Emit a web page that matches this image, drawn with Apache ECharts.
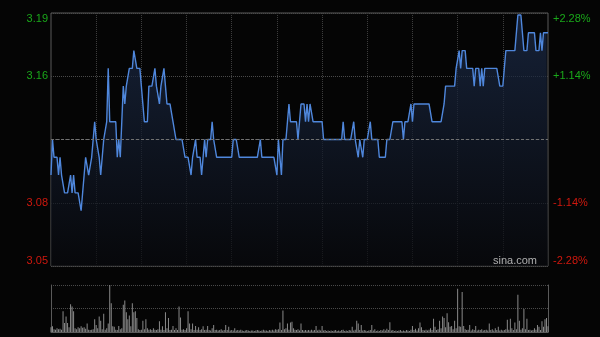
<!DOCTYPE html>
<html><head><meta charset="utf-8">
<script src="https://cdn.jsdelivr.net/npm/echarts@6/dist/echarts.min.js"></script>
<style>html,body{margin:0;padding:0;background:#050505;}#c{width:600px;height:337px;}</style>
</head><body><div id="c"></div>
<script>
// previous close (midline) and axis range in percent
const prevClose = 3.12;
const pctMin = -2.28, pctMax = 2.28, pctStep = 1.14;

// minute prices, 09:30-12:00 and 13:01-16:00
const prices = [
3.10,3.12,3.11,3.11,3.11,3.10,3.11,3.10,3.10,3.09,
3.09,3.09,3.09,3.10,3.09,3.10,3.09,3.09,3.09,3.09,
3.08,3.08,3.10,3.11,3.11,3.10,3.10,3.11,3.11,3.13,
3.12,3.12,3.11,3.10,3.10,3.12,3.12,3.13,3.16,3.13,
3.13,3.13,3.13,3.13,3.11,3.12,3.11,3.13,3.15,3.14,
3.15,3.15,3.16,3.16,3.16,3.17,3.17,3.16,3.16,3.16,
3.15,3.14,3.13,3.13,3.13,3.15,3.15,3.15,3.15,3.16,
3.15,3.15,3.14,3.15,3.15,3.16,3.15,3.14,3.14,3.14,
3.14,3.13,3.13,3.12,3.12,3.12,3.12,3.12,3.12,3.11,
3.11,3.11,3.11,3.10,3.11,3.11,3.12,3.11,3.11,3.11,
3.10,3.11,3.12,3.11,3.12,3.12,3.12,3.13,3.12,3.12,
3.11,3.11,3.11,3.11,3.11,3.11,3.11,3.11,3.11,3.11,
3.11,3.12,3.12,3.12,3.12,3.11,3.11,3.11,3.11,3.11,
3.11,3.11,3.11,3.11,3.11,3.11,3.11,3.11,3.11,3.12,
3.11,3.11,3.11,3.11,3.11,3.11,3.11,3.11,3.11,3.11,
3.10,3.12,3.11,3.10,3.12,3.12,3.12,3.13,3.14,3.13,
3.13,3.13,3.13,3.13,3.12,3.13,3.14,3.14,3.14,3.13,
3.14,3.13,3.14,3.14,3.13,3.13,3.13,3.13,3.13,3.13,
3.13,3.12,3.12,3.12,3.12,3.12,3.12,3.12,3.12,3.12,
3.12,3.12,3.12,3.12,3.13,3.12,3.12,3.12,3.12,3.12,
3.12,3.13,3.12,3.12,3.11,3.12,3.12,3.11,3.12,3.12,
3.12,3.12,3.13,3.12,3.12,3.12,3.12,3.12,3.11,3.11,
3.11,3.11,3.11,3.12,3.12,3.12,3.12,3.13,3.13,3.13,
3.13,3.13,3.13,3.13,3.12,3.13,3.13,3.13,3.13,3.14,
3.13,3.14,3.14,3.14,3.14,3.14,3.14,3.14,3.14,3.14,
3.14,3.14,3.14,3.13,3.13,3.13,3.13,3.13,3.13,3.13,
3.13,3.14,3.15,3.15,3.15,3.15,3.15,3.15,3.15,3.16,
3.16,3.17,3.16,3.17,3.17,3.17,3.16,3.16,3.16,3.16,
3.16,3.15,3.16,3.16,3.16,3.15,3.16,3.15,3.16,3.16,
3.16,3.16,3.16,3.16,3.16,3.16,3.16,3.16,3.15,3.15,
3.15,3.16,3.17,3.17,3.17,3.17,3.17,3.17,3.17,3.17,
3.19,3.19,3.19,3.18,3.17,3.17,3.17,3.18,3.18,3.18,
3.18,3.18,3.17,3.17,3.17,3.18,3.17,3.18,3.18,3.18,
3.18
];

// minute volumes (relative units, panel top = 100)
const volumes = [
10,12,6,5,8,6,7,5,44,19,
33,19,10,59,54,44,8,6,10,8,
12,9,10,7,18,5,4,5,6,27,
15,8,33,24,6,39,5,8,18,100,
61,12,11,5,4,13,6,8,58,67,
42,27,35,12,61,42,44,30,6,4,
5,24,6,27,8,5,6,4,8,5,
4,6,23,5,12,4,42,8,30,4,
5,13,4,8,4,54,31,5,6,4,
8,44,18,6,18,4,13,5,10,4,
6,12,4,5,13,4,3,8,15,4,
5,3,4,6,3,4,15,4,11,3,
4,3,8,3,4,3,5,3,2,3,
4,3,2,3,3,2,3,4,3,2,
3,5,3,3,2,4,3,5,3,6,
5,6,20,4,46,6,8,18,5,20,
22,8,5,4,6,3,18,4,3,4,
3,4,3,5,3,4,13,3,5,3,
13,3,4,2,3,2,3,2,3,4,
2,3,2,4,5,2,3,2,4,3,
11,3,5,24,18,4,15,3,4,3,
2,3,4,15,3,6,2,3,2,4,
3,6,3,7,4,21,3,4,2,3,
2,3,4,2,3,2,4,3,2,5,
13,4,7,3,8,20,10,4,3,5,
3,5,8,4,28,11,4,6,24,8,
33,30,10,40,21,11,13,6,24,8,
92,12,11,85,13,6,4,5,15,3,
6,4,13,3,5,4,6,3,4,5,
3,18,4,6,3,8,4,11,3,5,
3,4,6,26,5,28,8,4,20,6,
79,24,5,8,49,6,28,4,5,3,
4,8,5,15,11,4,23,11,27,30,
12
];

// time categories
const times = [];
function pad(n){return (n<10?'0':'')+n;}
for (let t = 9*60+30; t <= 12*60; t++) times.push(pad(Math.floor(t/60))+':'+pad(t%60));
for (let t = 13*60+1; t <= 16*60; t++) times.push(pad(Math.floor(t/60))+':'+pad(t%60));

const pctData = prices.map(p => (p/prevClose - 1)*100);

const isZero = v => Math.abs(v) < 1e-6;
const gridColor = '#3d3d3d';
const frameColor = '#5a5a5a';

const chart = echarts.init(document.getElementById('c'), null, {renderer:'canvas'});
chart.setOption({
  backgroundColor: '#050505',
  animation: false,
  grid: [
    {left:51, top:13, width:497, height:253, show:true, borderColor:frameColor, borderWidth:1, backgroundColor:'transparent'},
    {left:51, top:285, width:497, height:47}
  ],
  xAxis: [
    {type:'category', gridIndex:0, data:times, boundaryGap:false,
     axisLine:{show:false}, axisTick:{show:false}, axisLabel:{show:false},
     splitLine:{show:true, interval:(i)=> i%30===0 && i>0 && i<330, lineStyle:{color:gridColor, type:'dotted', width:1}}},
    {type:'category', gridIndex:1, data:times, boundaryGap:false,
     axisLine:{show:true, lineStyle:{color:frameColor}}, axisTick:{show:false}, axisLabel:{show:false},
     splitLine:{show:false}}
  ],
  yAxis: [
    {type:'value', gridIndex:0, position:'left', min:pctMin, max:pctMax, interval:pctStep,
     axisLine:{show:false}, axisTick:{show:false},
     splitLine:{show:true, lineStyle:{color:'#4a4a4a', type:'dotted'}},
     axisLabel:{margin:3, fontSize:11, fontFamily:'Liberation Sans, Arial, sans-serif',
       verticalAlignMinLabel:'bottom', verticalAlignMaxLabel:'top',
       color:(v)=> v>0 ? '#1aa81a' : '#d0180e',
       formatter:(v)=> isZero(v) ? '' : (prevClose*(1+v/100)).toFixed(2)}},
    {type:'value', gridIndex:0, position:'right', min:pctMin, max:pctMax, interval:pctStep,
     axisLine:{show:false}, axisTick:{show:false}, splitLine:{show:false},
     axisLabel:{margin:5, fontSize:11, fontFamily:'Liberation Sans, Arial, sans-serif',
       verticalAlignMinLabel:'bottom', verticalAlignMaxLabel:'top',
       color:(v)=> v>0 ? '#1aa81a' : '#d0180e',
       formatter:(v)=> isZero(v) ? '' : ((v>0?'+':'') + v.toFixed(2) + '%')}},
    {type:'value', gridIndex:1, position:'left', min:0, max:100, interval:50,
     axisLine:{show:true, lineStyle:{color:frameColor}}, axisTick:{show:false}, axisLabel:{show:false},
     splitLine:{show:true, lineStyle:{color:'#4a4a4a', type:'dotted'}}},
    {type:'value', gridIndex:1, position:'right', min:0, max:100, interval:50,
     axisLine:{show:true, lineStyle:{color:frameColor}}, axisTick:{show:false}, axisLabel:{show:false},
     splitLine:{show:false}}
  ],
  series: [
    {type:'line', xAxisIndex:0, yAxisIndex:0, data:pctData, symbol:'none', smooth:false,
     lineStyle:{color:'#4f87dc', width:1.4},
     areaStyle:{origin:'start', color:new echarts.graphic.LinearGradient(0,0,0,1,[
       {offset:0, color:'#1d2d4c'}, {offset:1, color:'#08090d'}])},
     markLine:{silent:true, symbol:'none', label:{show:false},
       lineStyle:{color:'#707070', type:[3,2], width:1},
       data:[{yAxis:0}]}},
    {type:'bar', xAxisIndex:1, yAxisIndex:2, data:volumes, barWidth:1,
     itemStyle:{color:'#8a8a8a'}}
  ],
  graphic: [
    {type:'text', left:null, x:537, y:261, z:100,
     style:{text:'sina.com', fill:'#b0b0b0', font:'11px "Liberation Sans", Arial, sans-serif',
       textAlign:'right', textVerticalAlign:'middle'}}
  ]
});
</script></body></html>
